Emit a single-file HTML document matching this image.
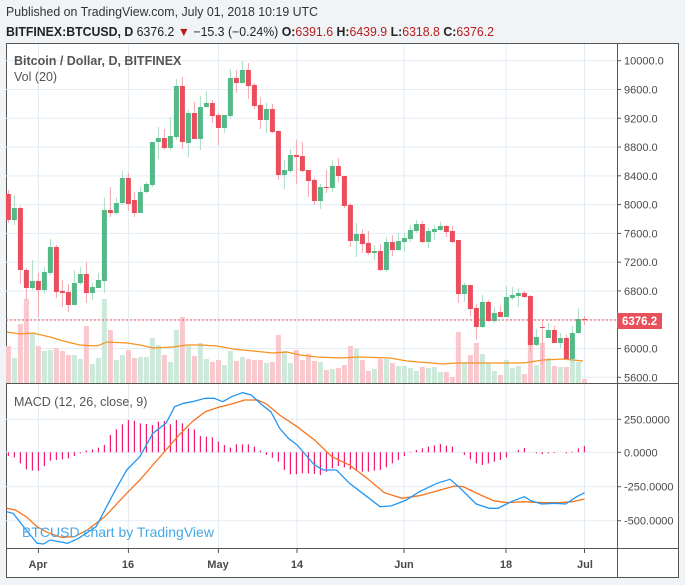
<!DOCTYPE html>
<html><head><meta charset="utf-8"><style>
body{margin:0;width:685px;height:580px;background:#f0f3fa;overflow:hidden;font-family:"Liberation Sans",sans-serif}
</style></head><body>
<svg id="s" width="685" height="580" xmlns="http://www.w3.org/2000/svg" font-family="Liberation Sans, sans-serif">
<rect x="0" y="0" width="685" height="580" fill="#f1f4f7"/>
<text x="6" y="16" font-size="12.5" fill="#333" textLength="312" lengthAdjust="spacingAndGlyphs">Published on TradingView.com, July 01, 2018 10:19 UTC</text>
<text x="6" y="36" font-size="12.5" fill="#222" textLength="488" lengthAdjust="spacingAndGlyphs"><tspan font-weight="bold">BITFINEX:BTCUSD, D</tspan> 6376.2 <tspan fill="#b71c1c">▼</tspan> −15.3 (−0.24%) <tspan font-weight="bold">O:</tspan><tspan fill="#b71c1c">6391.6</tspan> <tspan font-weight="bold">H:</tspan><tspan fill="#b71c1c">6439.9</tspan> <tspan font-weight="bold">L:</tspan><tspan fill="#b71c1c">6318.8</tspan> <tspan font-weight="bold">C:</tspan><tspan fill="#b71c1c">6376.2</tspan></text>
<rect x="6.5" y="43.5" width="672" height="534" fill="#fff" stroke="#555" stroke-width="1"/>
<g id="grid"></g>
<g id="vol"></g>
<g id="cand"></g>
<g id="macd"></g>
<line x1="617.5" y1="43" x2="617.5" y2="578" stroke="#555"/>
<line x1="6" y1="383.5" x2="678" y2="383.5" stroke="#555"/>
<line x1="6" y1="548.5" x2="678" y2="548.5" stroke="#555"/>
<text x="14" y="65" font-size="12.5" font-weight="bold" fill="#555">Bitcoin / Dollar, D, BITFINEX</text>
<text x="14" y="81" font-size="12.5" fill="#555">Vol (20)</text>
<text x="14" y="406" font-size="12.5" fill="#555">MACD (12, 26, close, 9)</text>
<text x="22" y="537" font-size="14" fill="#45a8e6">BTCUSD chart by TradingView</text>
<g font-size="11" fill="#4a4a4a" font-weight="bold" text-anchor="middle">
<text x="38" y="568">Apr</text><text x="128" y="568">16</text><text x="218" y="568">May</text><text x="297" y="568">14</text><text x="404" y="568">Jun</text><text x="506" y="568">18</text><text x="585" y="568">Jul</text>
</g>
<g id="ylab" font-size="11" fill="#4a4a4a"></g>
<line x1="6" y1="320" x2="617" y2="320" stroke="#e8505b" stroke-dasharray="2,2"/>
<rect x="617" y="313" width="45" height="16" fill="#e8505b"/>
<text x="622" y="325" font-size="11.5" fill="#fff" font-weight="bold">6376.2</text>
</svg>
<script>
var NS="http://www.w3.org/2000/svg";
function el(p,t,a){var e=document.createElementNS(NS,t);for(var k in a)e.setAttribute(k,a[k]);document.getElementById(p).appendChild(e);return e;}
function X(d){return 38.4+6*d;}
var vx=[38.4,128.4,218.4,297,404,506,584.5];
vx.forEach(function(x){el("grid","line",{x1:x,y1:44,x2:x,y2:548,stroke:"#e3ecf4"});el("grid","line",{x1:x,y1:548,x2:x,y2:553,stroke:"#555"});});
for(var p=5600;p<=10000;p+=400){var y=60.7+(10000-p)/400*28.78;el("grid","line",{x1:6,y1:y,x2:617,y2:y,stroke:"#e3ecf4"});el("grid","line",{x1:617,y1:y,x2:621,y2:y,stroke:"#555"});var t=el("ylab","text",{x:624,y:y+4});t.textContent=p.toFixed(1);}
[[250,419.3,"250.0000"],[0,452.3,"0.0000"],[-250,486.7,"-250.0000"],[-500,520.7,"-500.0000"]].forEach(function(a){el("grid","line",{x1:6,y1:a[1],x2:617,y2:a[1],stroke:"#e3ecf4"});el("grid","line",{x1:617,y1:a[1],x2:621,y2:a[1],stroke:"#555"});var t=el("ylab","text",{x:624,y:a[1]+4});t.textContent=a[2];});
var C=[["r",194,220,190,223],["g",208,220,195,225],["r",208,270,206,284],["r",270,288,268,300],["g",281,288,260,290],["r",281,290,273,317],["g",272,290,267,293],["g",247,273,239,275],["r",247,292,245,298],["r",291,293,280,307],["r",292,305,284,312],["g",283,305,270,305],["g",274,283,267,285],["r",274,293,262,303],["g",287,293,283,300],["g",280,288,273,288],["g",210,281,198,293],["r",210,213,187,217],["g",203,213,197,215],["g",178,203,171,205],["r",178,204,173,211],["r",200,213,192,217],["g",192,213,187,213],["g",184,192,182,193],["g",142,185,142,187],["g",138,142,127,159],["r",138,148,129,150],["g",136,148,117,150],["g",86,137,79,140],["r",86,142,77,149],["g",113,143,110,157],["r",113,139,102,139],["g",107,139,96,150],["g",103,107,91,108],["r",103,116,100,123],["r",115,128,113,145],["g",115,128,115,133],["g",78,116,69,118],["r",78,83,70,93],["g",70,83,61,83],["r",70,86,63,99],["r",85,106,83,109],["r",105,120,98,129],["g",109,120,103,133],["r",109,132,104,133],["r",131,175,131,180],["g",170,175,160,189],["g",155,171,149,173],["r",155,157,140,184],["r",156,171,142,172],["r",170,181,170,197],["r",180,201,178,205],["g",187,201,184,209],["r",187,188,170,193],["g",166,188,160,192],["r",166,176,158,182],["r",176,206,176,208],["r",205,241,203,247],["g",234,241,223,257],["r",234,244,229,253],["r",243,253,231,255],["g",251,253,245,260],["r",251,270,244,271],["g",242,270,237,272],["r",242,250,235,256],["g",241,250,233,251],["g",238,242,233,252],["g",230,239,225,242],["g",224,231,220,233],["r",224,242,221,243],["g",231,242,228,248],["g",229,232,225,240],["g",226,230,222,231],["r",226,232,225,237],["r",231,242,226,243],["r",240,294,240,303],["g",285,294,283,302],["r",285,309,285,316],["r",308,327,304,340],["g",302,327,295,328],["r",302,321,300,322],["g",313,321,307,323],["r",312,317,306,317],["g",297,317,286,317],["g",295,298,287,300],["g",293,296,288,307],["r",293,297,291,298],["r",296,345,295,353],["g",337,345,329,346],["r",327,328,320,365],["g",330,338,323,338],["r",330,343,326,343],["g",338,343,333,348],["r",338,359,335,360],["g",333,359,326,363],["g",319,333,308,334],["r",319,320,316,325]];
var V=[["r",346],["g",358],["r",324],["r",299],["g",333],["r",346],["g",351],["g",350],["r",348],["r",351],["r",355],["g",355],["g",359],["r",326],["g",364],["g",358],["g",299],["r",330],["g",360],["g",355],["r",350],["r",358],["g",357],["g",357],["g",338],["g",345],["r",355],["g",362],["g",330],["r",317],["g",346],["r",356],["g",343],["g",359],["r",362],["r",360],["g",365],["g",351],["r",361],["g",357],["r",359],["r",360],["r",360],["g",363],["r",362],["r",335],["g",351],["g",363],["r",350],["r",360],["r",354],["r",361],["g",362],["r",370],["g",369],["r",368],["r",365],["r",346],["g",349],["r",360],["r",371],["g",369],["r",359],["g",359],["r",363],["g",366],["g",366],["g",368],["g",371],["r",367],["g",368],["g",367],["g",372],["r",372],["r",377],["r",332],["g",362],["r",355],["r",343],["g",354],["g",363],["g",371],["r",375],["g",360],["g",368],["g",366],["r",374],["r",336],["g",365],["r",343],["g",358],["r",366],["g",367],["r",367],["g",350],["g",362],["r",379]];
V.forEach(function(v,i){var x=X(i-5);el("vol","rect",{x:x-2.5,y:v[1],width:5,height:383-v[1],fill:v[0]=="g"?"#cce9da":"#f9c8cd"});});
var vm=[[7,332],[20,334],[33,333],[50,337],[67,342],[80,345],[97,346],[107,342],[127,343],[140,345],[153,348],[173,347],[187,345],[200,345],[217,346],[233,349],[253,351],[273,353],[287,352],[300,355],[317,357],[340,358],[360,357],[390,358],[407,361],[443,364],[457,363],[497,363],[523,363],[543,360],[563,359],[583,361]];
el("vol","polyline",{points:vm.map(function(p){return p.join(",")}).join(" "),fill:"none",stroke:"#f7931e","stroke-width":1.2});
C.forEach(function(c,i){var x=X(i-5),col=c[0]=="g"?"#53b987":"#eb4d5c";var wc=c[0]=="g"?"#a9dcc3":"#f5a6ae";el("cand","line",{x1:x,y1:c[3],x2:x,y2:c[4],stroke:wc,"stroke-width":1});el("cand","rect",{x:x-2.5,y:c[1],width:5,height:Math.max(1,c[2]-c[1]),fill:col});});
var H=[228,232,250,268,272,272,258,242,240,238,235,228,220,212,208,203,195,165,148,133,120,122,130,132,135,125,123,133,120,130,145,148,168,170,172,185,195,203,193,193,193,200,212,225,233,245,270,283,283,280,280,282,285,275,265,258,262,268,272,275,275,272,270,262,250,240,228,215,210,205,200,196,192,197,200,217,225,238,250,255,250,245,240,232,217,210,204,217,220,222,220,219,217,220,215,205,198];
H.forEach(function(h,i){var x=X(i-5);var y=380+h/3;el("macd","line",{x1:x,y1:452.3,x2:x,y2:y,stroke:"#ee1b6e","stroke-width":1.2});});
function conv(a){return a.map(function(p){return (p[0]/2.289).toFixed(1)+","+(380+p[1]/3).toFixed(1)}).join(" ");}
var B=[[15,395],[30,400],[60,450],[85,490],[100,492],[115,480],[155,490],[180,475],[220,440],[260,340],[290,270],[320,230],[350,160],[380,130],[400,80],[420,70],[440,65],[470,55],[490,55],[510,65],[530,50],[555,38],[575,45],[600,75],[620,95],[640,145],[660,175],[680,195],[700,225],[720,255],[740,270],[770,270],[800,310],[830,340],[870,380],[895,378],[930,360],[960,335],[1000,310],[1030,298],[1050,320],[1090,372],[1120,385],[1140,385],[1170,365],[1200,350],[1215,362],[1240,372],[1270,370],[1295,372],[1320,350],[1338,338]];
var O=[[15,385],[35,390],[60,410],[85,440],[110,458],[140,472],[170,470],[200,450],[240,410],[290,340],[320,300],[350,255],[380,210],[410,165],[440,125],[470,95],[500,82],[530,72],[560,60],[590,60],[610,72],[640,105],[680,140],[720,180],[760,230],[800,255],[840,295],[880,338],[920,355],[960,347],[1000,333],[1040,318],[1060,320],[1100,345],[1130,362],[1160,368],[1200,365],[1240,368],[1280,368],[1310,365],[1338,357]];
el("macd","polyline",{points:conv(O),fill:"none",stroke:"#f7741e","stroke-width":1.3});
el("macd","polyline",{points:conv(B),fill:"none",stroke:"#2196f3","stroke-width":1.3});
</script>
</body></html>
